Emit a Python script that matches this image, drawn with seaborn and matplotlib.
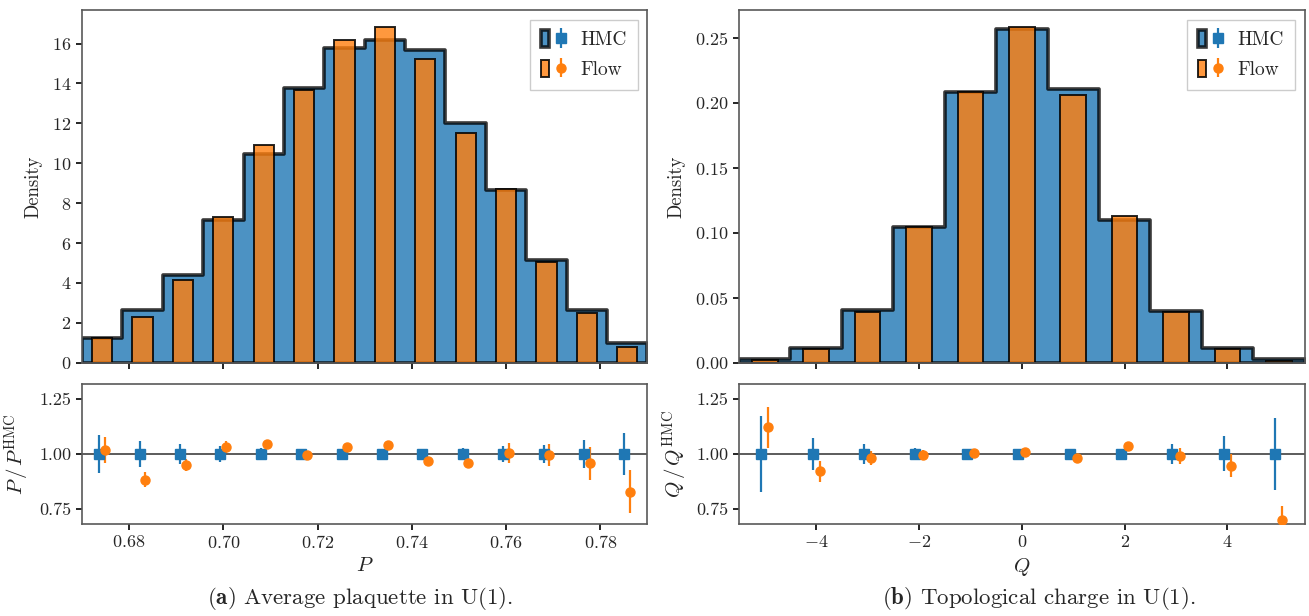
#!/usr/bin/env python3
import matplotlib
matplotlib.use('Agg')
import matplotlib.pyplot as plt
import matplotlib.patches as mpatches
from matplotlib.legend_handler import HandlerTuple
import numpy as np
import pandas as pd
import seaborn as sns

# --- plaquette histogram (14 bins between 0.670 and 0.790) ---
p_range = (0.670, 0.790)
p_nbins = 14
p_hmc = [1.22, 2.64, 4.41, 7.14, 10.47, 13.75, 15.77, 16.17, 15.70, 12.0, 8.68, 5.13, 2.64, 0.97]
p_flow = [1.22, 2.31, 4.16, 7.32, 10.89, 13.65, 16.20, 16.84, 15.20, 11.49, 8.70, 5.07, 2.51, 0.80]
p_ratio_hmc_err = [0.085, 0.060, 0.045, 0.035, 0.026, 0.022, 0.022, 0.015, 0.022, 0.027, 0.035, 0.042, 0.062, 0.097]
p_ratio_flow = [1.018, 0.883, 0.949, 1.032, 1.045, 0.993, 1.030, 1.042, 0.966, 0.957, 1.005, 0.997, 0.957, 0.827]
p_ratio_flow_err = [0.060, 0.035, 0.028, 0.028, 0.020, 0.015, 0.015, 0.015, 0.015, 0.018, 0.045, 0.050, 0.074, 0.098]

# --- topological charge histogram (integer bins -5..5) ---
q_vals = [-5, -4, -3, -2, -1, 0, 1, 2, 3, 4, 5]
q_hmc = [0.0026, 0.0116, 0.0406, 0.1048, 0.2081, 0.2569, 0.2107, 0.1100, 0.0398, 0.0116, 0.0028]
q_flow = [0.0018, 0.0103, 0.0393, 0.1043, 0.2086, 0.2587, 0.2061, 0.1133, 0.0388, 0.0103, 0.0015]
q_ratio_hmc_err = [0.172, 0.074, 0.044, 0.027, 0.018, 0.010, 0.012, 0.023, 0.045, 0.080, 0.165]
q_ratio_flow = [1.122, 0.920, 0.982, 0.997, 1.003, 1.009, 0.982, 1.035, 0.990, 0.947, 0.697]
q_ratio_flow_err = [0.094, 0.047, 0.032, 0.020, 0.013, 0.010, 0.012, 0.020, 0.035, 0.051, 0.064]

BLUE = sns.color_palette()[0]
ORANGE = sns.color_palette()[1]
HMC_EDGE = (0, 0, 0, 0.78)
FLOW_EDGE = (0, 0, 0, 0.85)

sns.set_style('ticks')
plt.rcParams['font.family'] = ['cmr10', 'DejaVu Serif']
plt.rcParams['mathtext.fontset'] = 'cm'
plt.rcParams['axes.formatter.use_mathtext'] = True
plt.rcParams['axes.unicode_minus'] = True


def style_axes(ax):
    for sp in ax.spines.values():
        sp.set_color('0.35')
        sp.set_linewidth(1.2)
    ax.tick_params(direction='out', length=4, width=1.2, color='k', labelsize=13)


def panel(fig, left, edges, centers, hmc, flow, r_hmc_err, r_flow, r_flow_err, xlabel, rlabel, xticks, yticks):
    bw = edges[1] - edges[0]
    ax_h = fig.add_axes([left, 0.4112, 0.4320, 0.5726])
    ax_r = fig.add_axes([left, 0.1494, 0.4320, 0.2273], sharex=ax_h)

    df = pd.DataFrame({'x': list(centers), 'hmc': hmc, 'flow': flow})
    bins = [float(e) for e in edges]
    sns.histplot(data=df, x='x', weights='hmc', bins=bins, element='step', fill=True,
                 color=BLUE, alpha=0.8, edgecolor=HMC_EDGE, linewidth=2.6, ax=ax_h)
    sns.histplot(data=df, x='x', weights='flow', bins=bins, element='bars', shrink=0.5,
                 color=ORANGE, alpha=0.8, edgecolor=FLOW_EDGE, linewidth=1.4, ax=ax_h)
    ax_h.set_ylabel('Density', fontsize=13.5, labelpad=7)
    ax_h.set_xlabel('')
    ax_h.set_yticks(yticks)
    ax_h.tick_params(labelbottom=False)

    ax_r.axhline(1.0, color='0.25', lw=1.2, zorder=1)
    eb_h = ax_r.errorbar(np.asarray(centers) - 0.07 * bw, np.ones(len(centers)), yerr=r_hmc_err,
                         fmt='s', color=BLUE, ms=6.5, elinewidth=1.6, zorder=3)
    eb_f = ax_r.errorbar(np.asarray(centers) + 0.07 * bw, r_flow, yerr=r_flow_err,
                         fmt='o', color=ORANGE, ms=6.5, elinewidth=1.6, zorder=3)
    ax_r.set_ylim(0.68, 1.32)
    ax_r.set_yticks([0.75, 1.00, 1.25])
    ax_r.set_yticklabels(['0.75', '1.00', '1.25'])
    ax_r.set_xlim(edges[0], edges[-1])
    ax_r.set_xticks(xticks)
    ax_r.set_xlabel(xlabel, fontsize=15)
    ax_r.set_ylabel(rlabel, fontsize=15, labelpad=5)

    for ax in (ax_h, ax_r):
        style_axes(ax)

    h_patch = mpatches.Patch(facecolor=(*BLUE, 0.8), edgecolor=HMC_EDGE, linewidth=2.6)
    f_patch = mpatches.Patch(facecolor=(*ORANGE, 0.8), edgecolor=FLOW_EDGE, linewidth=1.4)
    ax_h.legend([(h_patch, eb_h), (f_patch, eb_f)], ['HMC', 'Flow'],
                handler_map={tuple: HandlerTuple(ndivide=None, pad=0.45)},
                loc='upper right', fontsize=14, fancybox=False, edgecolor='0.8',
                framealpha=1.0, handlelength=1.25, handleheight=0.95, borderpad=0.55,
                handletextpad=0.8, labelspacing=0.55)
    return ax_h, ax_r


def main():
    fig = plt.figure(figsize=(13.09, 6.16), dpi=100)

    p_edges = np.linspace(p_range[0], p_range[1], p_nbins + 1)
    p_centers = 0.5 * (p_edges[:-1] + p_edges[1:])
    panel(fig, 0.0626, p_edges, p_centers, p_hmc, p_flow, p_ratio_hmc_err, p_ratio_flow, p_ratio_flow_err,
          r'$P$', r'$P\,/\,P^{\mathrm{HMC}}$', [0.68, 0.70, 0.72, 0.74, 0.76, 0.78], np.arange(0, 17, 2))

    q_edges = np.append(np.asarray(q_vals) - 0.5, q_vals[-1] + 0.5)
    panel(fig, 0.5646, q_edges, q_vals, q_hmc, q_flow, q_ratio_hmc_err, q_ratio_flow, q_ratio_flow_err,
          r'$Q$', r'$Q\,/\,Q^{\mathrm{HMC}}$', [-4, -2, 0, 2, 4], [0.0, 0.05, 0.10, 0.15, 0.20, 0.25])

    fig.text(360 / 1309, 1 - 599 / 616, r'$\mathbf{(a)}$ Average plaquette in U(1).',
             ha='center', va='center', fontsize=16.5)
    fig.text(1039 / 1309, 1 - 599 / 616, r'$\mathbf{(b)}$ Topological charge in U(1).',
             ha='center', va='center', fontsize=16.5)

    fig.savefig('out.png', dpi=100)
    plt.close(fig)


if __name__ == '__main__':
    main()
